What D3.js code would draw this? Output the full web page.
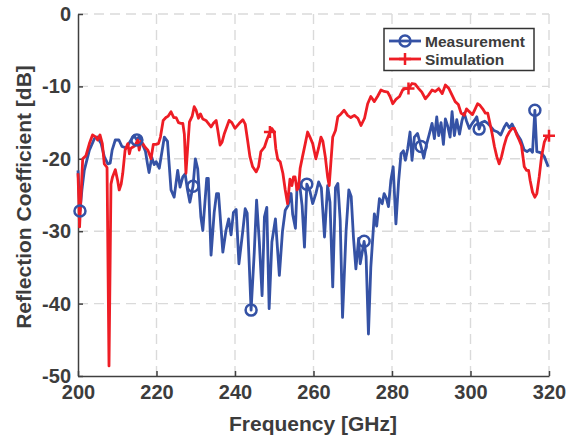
<!DOCTYPE html>
<html><head><meta charset="utf-8">
<script src="https://cdn.jsdelivr.net/npm/d3@7"></script>
<style>body{margin:0;background:#fff}svg{display:block}text{font-family:"Liberation Sans",Arial,sans-serif;font-weight:bold;fill:#3c3c3c}</style>
</head><body><svg id="c" width="568" height="439"></svg>
<script>
const xTicks = [200,220,240,260,280,300,320];
const yTicks = [0,-10,-20,-30,-40,-50];
const seriesNames = ["Measurement","Simulation"];

const measFreq = [200.0,200.5,201.0,201.6,202.9,204.2,204.9,205.9,206.7,207.6,208.2,208.7,209.5,210.4,211.2,212.3,213.5,214.3,215.0,215.6,216.5,217.2,217.7,218.1,218.8,219.4,219.9,220.7,221.4,222.0,222.8,223.7,224.5,225.4,226.0,226.7,227.3,227.9,228.5,229.3,229.9,230.5,231.3,231.8,232.8,233.2,233.9,234.7,235.3,235.8,236.9,237.7,238.4,239.0,239.6,240.3,241.0,242.0,242.6,243.1,244.1,244.9,245.5,246.2,246.9,247.5,248.1,248.7,249.4,250.3,251.3,252.1,252.8,253.5,253.9,254.3,254.7,255.4,255.8,256.4,257.1,257.7,258.3,259.1,259.8,260.6,261.3,262.0,262.8,263.6,264.2,264.9,265.6,266.2,266.8,267.4,268.3,269.0,269.6,270.2,270.8,271.5,271.9,272.9,273.4,274.0,274.6,275.5,276.1,276.8,277.5,278.0,278.6,279.1,279.7,280.3,281.0,281.7,282.3,282.9,283.4,284.0,284.6,285.1,285.7,286.5,287.4,288.1,288.8,289.5,290.2,290.8,291.4,291.9,292.5,293.1,293.6,294.2,294.8,295.3,295.9,296.5,297.2,297.8,298.4,299.0,299.7,300.3,301.0,301.6,302.2,302.8,303.6,304.4,305.2,306.0,306.9,307.7,308.6,309.2,309.9,310.6,311.3,312.0,312.8,313.7,314.4,315.2,315.8,316.4,316.9,317.6,318.2,318.8,319.8];
const measDB = [-21.6,-27.2,-24.3,-21.6,-18.8,-17.2,-17.0,-17.9,-19.7,-20.7,-20.6,-18.8,-17.4,-17.4,-18.3,-18.5,-17.4,-16.8,-17.4,-16.9,-18.1,-19.0,-20.7,-21.9,-19.8,-20.8,-20.4,-21.3,-19.0,-17.0,-17.6,-24.3,-25.3,-21.6,-23.9,-22.5,-22.1,-24.3,-26.0,-23.8,-20.0,-21.4,-28.0,-29.9,-22.7,-22.7,-33.3,-27.4,-24.8,-24.8,-32.9,-29.9,-28.3,-30.5,-27.4,-27.0,-34.5,-29.9,-26.9,-27.5,-40.9,-33.0,-25.7,-31.5,-38.9,-28.0,-26.7,-40.7,-31.5,-28.3,-36.1,-30.0,-27.1,-26.5,-25.6,-24.8,-27.7,-29.6,-23.9,-23.2,-26.5,-32.2,-23.5,-24.5,-26.2,-24.8,-23.2,-24.0,-30.8,-23.7,-26.0,-37.7,-24.0,-23.4,-28.5,-41.9,-30.0,-24.3,-25.2,-31.0,-35.2,-31.0,-34.5,-31.4,-33.5,-44.2,-35.0,-27.6,-29.3,-25.5,-26.2,-24.8,-25.5,-26.6,-23.0,-21.1,-29.0,-23.0,-19.3,-18.9,-20.2,-18.6,-16.3,-20.2,-17.0,-16.5,-18.3,-19.9,-18.0,-16.6,-15.1,-17.2,-14.2,-16.8,-15.0,-18.0,-14.5,-15.5,-17.0,-13.5,-16.8,-14.6,-16.6,-14.8,-13.7,-14.8,-15.8,-15.2,-14.7,-14.2,-15.9,-15.0,-14.8,-15.1,-15.6,-16.1,-16.3,-16.7,-15.6,-15.1,-15.7,-15.2,-16.0,-16.7,-17.4,-18.8,-19.0,-18.7,-19.1,-13.3,-19.0,-19.1,-19.3,-19.7,-21.1];
const measMarkerFreq = [200.5,215.0,229.3,244.1,258.3,272.9,287.4,302.2,316.4];

const simFreq = [200.0,200.4,201.2,202.0,202.9,203.7,204.6,205.0,205.6,206.2,206.7,207.4,207.9,208.4,208.8,209.5,210.1,210.5,211.0,211.4,212.0,212.7,213.1,213.4,213.9,214.5,215.2,215.6,216.0,216.5,217.1,217.8,218.6,219.2,219.9,220.5,221.0,221.7,222.4,223.0,223.7,224.4,225.0,225.6,226.2,226.7,227.1,227.5,228.0,228.4,229.1,229.6,230.1,230.7,231.2,231.8,232.6,233.2,233.9,234.5,235.2,235.6,236.2,236.7,237.3,237.9,238.5,239.2,240.0,241.1,242.0,242.6,243.2,243.8,244.5,245.4,246.0,246.6,247.5,248.1,248.9,249.4,250.0,250.4,250.9,251.5,252.2,252.8,253.4,254.0,254.5,254.9,255.3,255.8,256.2,256.6,257.2,257.9,258.5,259.1,259.8,260.6,261.3,261.9,262.4,263.0,263.6,264.0,264.4,264.9,265.6,266.2,267.0,267.8,268.7,269.5,270.4,271.3,272.1,273.0,273.8,274.6,275.5,276.3,277.2,278.0,278.9,279.5,280.2,281.0,281.9,282.7,283.4,284.2,285.1,285.9,286.8,287.6,288.5,289.3,290.2,291.0,291.9,292.8,293.6,294.5,295.3,296.1,296.9,297.6,298.4,299.0,299.7,300.5,301.2,301.8,302.4,303.1,303.8,304.4,304.8,305.5,306.1,306.7,307.3,307.9,308.6,309.2,309.9,310.6,311.2,311.8,312.4,313.0,313.7,314.3,314.8,315.2,315.8,316.4,316.9,317.5,318.1,318.8,319.4,320.0];
const simDB = [-22.0,-29.4,-20.0,-19.6,-17.9,-16.7,-17.0,-17.4,-16.7,-17.9,-20.7,-21.2,-48.6,-23.5,-22.5,-21.5,-23.0,-24.3,-23.5,-22.0,-18.8,-17.9,-19.3,-18.6,-18.4,-18.2,-17.4,-18.8,-17.6,-17.9,-18.4,-18.8,-20.0,-18.0,-18.0,-17.9,-17.0,-14.7,-14.3,-14.1,-13.5,-14.3,-14.3,-15.0,-15.1,-15.1,-16.6,-22.0,-18.0,-14.9,-14.1,-12.8,-13.3,-14.4,-13.8,-14.5,-14.7,-15.1,-15.6,-15.1,-14.7,-16.0,-18.1,-17.7,-16.5,-15.6,-14.7,-15.0,-15.8,-15.1,-14.6,-15.2,-17.4,-19.7,-21.1,-21.8,-21.1,-19.0,-18.4,-17.4,-16.3,-15.8,-16.3,-18.6,-20.1,-20.4,-22.0,-24.3,-26.2,-22.8,-23.7,-22.5,-22.5,-24.3,-24.0,-21.3,-19.7,-17.9,-16.3,-17.0,-17.9,-20.0,-18.5,-17.0,-17.6,-19.7,-22.5,-23.7,-20.7,-17.0,-16.1,-14.2,-13.8,-13.3,-14.0,-14.3,-14.0,-14.4,-15.4,-14.4,-12.4,-11.4,-12.1,-11.4,-10.5,-10.7,-10.8,-11.4,-12.4,-11.8,-11.4,-10.5,-10.3,-10.3,-9.6,-9.7,-10.3,-10.8,-11.7,-11.2,-10.5,-10.7,-10.3,-11.0,-9.8,-10.3,-11.2,-12.1,-12.5,-13.7,-14.0,-13.1,-13.5,-13.9,-13.1,-12.4,-12.6,-13.1,-13.7,-13.7,-14.7,-16.5,-18.3,-19.7,-20.7,-19.7,-18.1,-17.0,-16.3,-15.8,-15.8,-16.7,-17.4,-18.2,-21.1,-21.6,-21.6,-23.0,-24.6,-25.3,-24.8,-22.5,-19.7,-17.7,-17.0,-16.8];
const simMarkerFreq = [248.9,284.2,320.0];

const blue = "#3552a5", red = "#ee1d25", axisCol = "#404040", gridCol = "#dadada";
const svg = d3.select("#c");
const x = d3.scaleLinear().domain([200,320]).range([78,549]);
const y = d3.scaleLinear().domain([-50,0]).range([376,14]);

// grid
const g = svg.append("g");
g.selectAll(".vg").data(xTicks.slice(1)).join("line")
  .attr("x1",d=>x(d)).attr("x2",d=>x(d)).attr("y1",y(-50)).attr("y2",y(0))
  .attr("stroke",gridCol).attr("stroke-width",1.4).attr("stroke-dasharray","10,6");
g.selectAll(".hg").data(yTicks.slice(0,-1)).join("line")
  .attr("y1",d=>y(d)).attr("y2",d=>y(d)).attr("x1",x(200)).attr("x2",x(320))
  .attr("stroke",gridCol).attr("stroke-width",1.4).attr("stroke-dasharray","10,6");

// axes
const xa = svg.append("g").attr("transform",`translate(0,${y(-50)})`)
  .call(d3.axisBottom(x).tickValues(xTicks).tickSize(-5).tickSizeOuter(0).tickPadding(9).tickFormat(d3.format("d")));
const ya = svg.append("g").attr("transform",`translate(${x(200)},0)`)
  .call(d3.axisLeft(y).tickValues(yTicks).tickSize(-5).tickSizeOuter(0).tickPadding(7).tickFormat(d=>d===0?"0":String(d)));
[xa,ya].forEach(a=>{
  a.select(".domain").attr("stroke",axisCol).attr("stroke-width",1.5);
  a.selectAll(".tick line").attr("stroke",axisCol).attr("stroke-width",1.5);
  a.selectAll("text").attr("font-size",20).attr("font-family","Liberation Sans, Arial, sans-serif").attr("font-weight","bold").attr("fill","#3c3c3c");
});

// lines
const meas = measFreq.map((f,i)=>({f,v:measDB[i]}));
const sim = simFreq.map((f,i)=>({f,v:simDB[i]}));
const line = d3.line().x(d=>x(d.f)).y(d=>y(d.v));
svg.append("path").datum(meas).attr("d",line).attr("fill","none").attr("stroke",blue).attr("stroke-width",2.8).attr("stroke-linejoin","round");
svg.append("path").datum(sim).attr("d",line).attr("fill","none").attr("stroke",red).attr("stroke-width",2.8).attr("stroke-linejoin","round");

const nearest = (arr,f)=>arr.reduce((a,b)=>Math.abs(b.f-f)<Math.abs(a.f-f)?b:a);
svg.selectAll(".mc").data(measMarkerFreq.map(f=>nearest(meas,f))).join("circle")
  .attr("cx",d=>x(d.f)).attr("cy",d=>y(d.v)).attr("r",5.5)
  .attr("fill","none").attr("stroke",blue).attr("stroke-width",2.5);
svg.selectAll(".sp").data(simMarkerFreq.map(f=>nearest(sim,f))).join("path")
  .attr("transform",d=>`translate(${x(d.f)},${y(d.v)})`)
  .attr("d","M-6,0H6M0,-6V6").attr("stroke",red).attr("stroke-width",2.5).attr("fill","none");

// legend
const lg = svg.append("g");
lg.append("rect").attr("x",384).attr("y",28.5).attr("width",150).attr("height",42)
  .attr("fill","#fff").attr("stroke","#333").attr("stroke-width",1.5);
const items = [{n:seriesNames[0],c:blue,m:"o",yy:41},{n:seriesNames[1],c:red,m:"+",yy:59}];
items.forEach(it=>{
  lg.append("line").attr("x1",389).attr("x2",421).attr("y1",it.yy).attr("y2",it.yy).attr("stroke",it.c).attr("stroke-width",2.8);
  if(it.m==="o") lg.append("circle").attr("cx",405).attr("cy",it.yy).attr("r",5.5).attr("fill","none").attr("stroke",it.c).attr("stroke-width",2.5);
  else lg.append("path").attr("transform",`translate(405,${it.yy})`).attr("d","M-6,0H6M0,-6V6").attr("stroke",it.c).attr("stroke-width",2.5);
  lg.append("text").attr("x",425).attr("y",it.yy).attr("dy","0.36em").attr("font-size",15.5).text(it.n);
});

// axis titles
svg.append("text").attr("x",313).attr("y",431).attr("text-anchor","middle").attr("font-size",21).text("Frequency [GHz]");
svg.append("text").attr("transform","translate(31,197) rotate(-90)").attr("text-anchor","middle").attr("font-size",21).text("Reflection Coefficient [dB]");
</script></body></html>
